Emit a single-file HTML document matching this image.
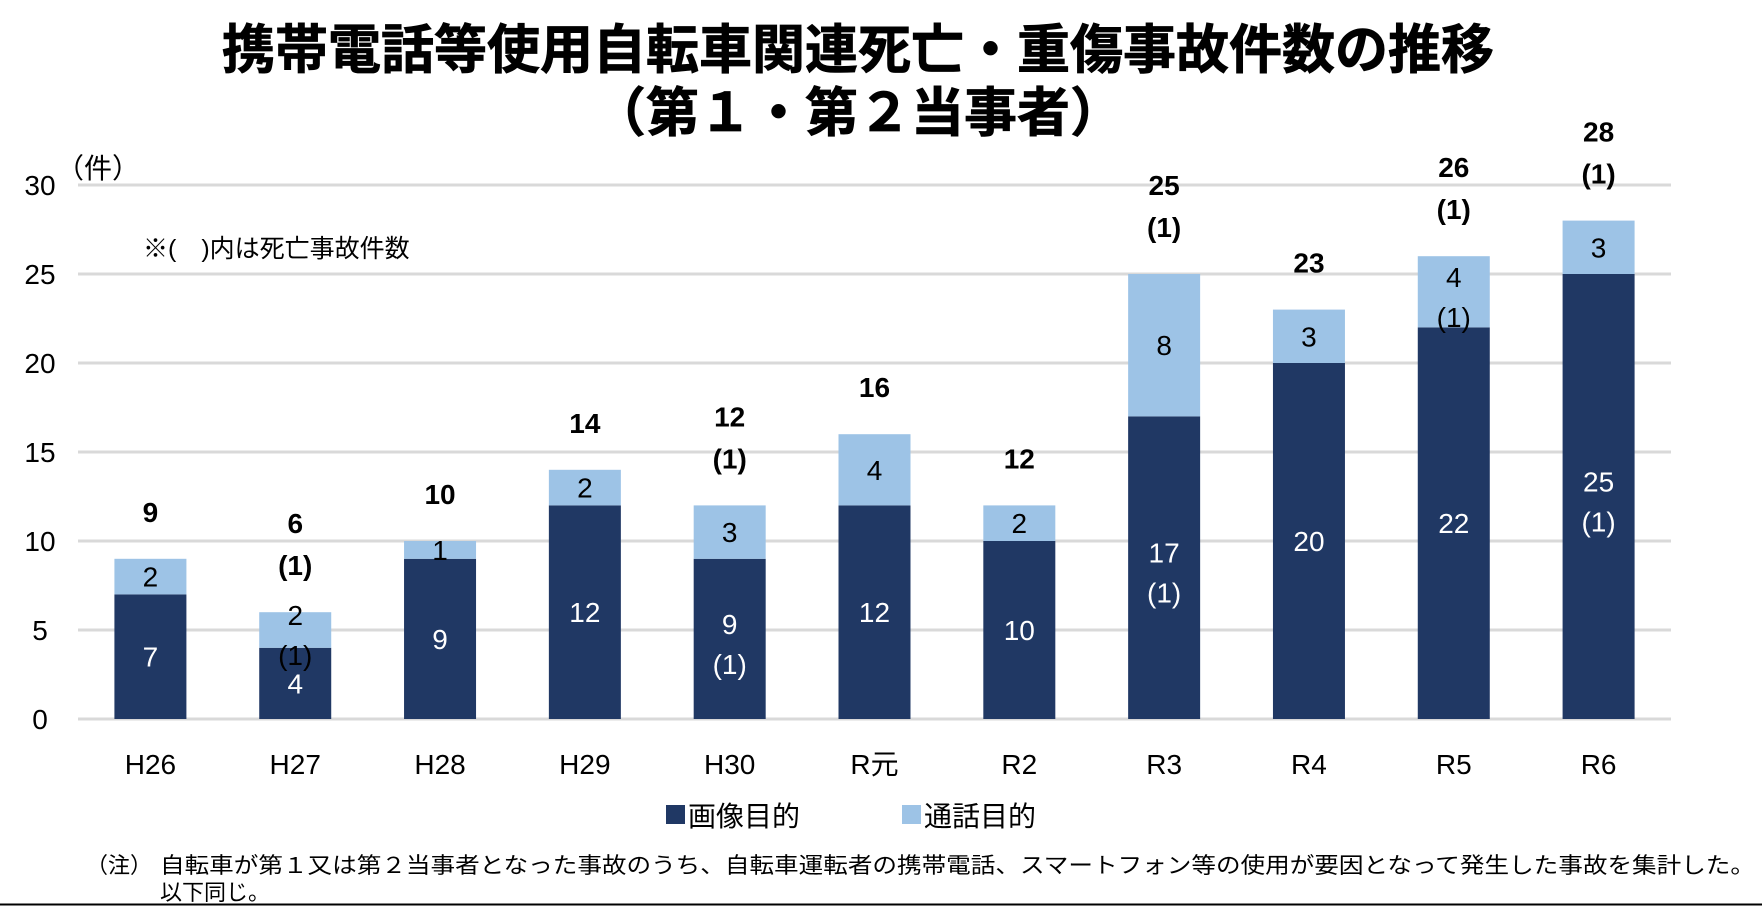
<!DOCTYPE html>
<html><head><meta charset="utf-8">
<style>
html,body{margin:0;padding:0;background:#fff;}
body{width:1762px;height:906px;overflow:hidden;font-family:"Liberation Sans","Noto Sans CJK JP",sans-serif;}
svg text{font-family:"Liberation Sans","Noto Sans CJK JP",sans-serif;}
</style></head>
<body>
<svg id="chart" width="1762" height="906" viewBox="0 0 1762 906" xmlns="http://www.w3.org/2000/svg">
<text x="858" y="68" text-anchor="middle" font-size="53" font-weight="bold" fill="#000" stroke="#000" stroke-width="0.8">携帯電話等使用自転車関連死亡・重傷事故件数の推移</text>
<text x="858" y="131" text-anchor="middle" font-size="53" font-weight="bold" fill="#000" stroke="#000" stroke-width="0.8">（第１・第２当事者）</text>
<text x="56" y="178" font-size="28" fill="#000">（件）</text>
<text x="143" y="257" font-size="25" fill="#000">※(　)内は死亡事故件数</text>
<g id="grid"></g>
<g id="bars"></g>
<g id="labels"></g>
<g>
<rect x="666" y="805" width="19" height="19" fill="#203864"/>
<text x="688" y="826" font-size="28" fill="#000">画像目的</text>
<rect x="902" y="805" width="19" height="19" fill="#9DC3E6"/>
<text x="924" y="826" font-size="28" fill="#000">通話目的</text>
</g>
<text x="86" y="873" font-size="22" fill="#000">（注）</text>
<text x="160" y="873" font-size="22" fill="#000" textLength="1595" lengthAdjust="spacingAndGlyphs">自転車が第１又は第２当事者となった事故のうち、自転車運転者の携帯電話、スマートフォン等の使用が要因となって発生した事故を集計した。</text>
<text x="160" y="900" font-size="22" fill="#000">以下同じ。</text>
<line x1="0" y1="904.5" x2="1762" y2="904.5" stroke="#000" stroke-width="2"/>
</svg>
<script>
const categories = ["H26","H27","H28","H29","H30","R元","R2","R3","R4","R5","R6"];
const imageValues = [7,4,9,12,9,12,10,17,20,22,25];
const callValues = [2,2,1,2,3,4,2,8,3,4,3];
const imageFatal = [0,0,0,0,1,0,0,1,0,0,1];
const callFatal = [0,1,0,0,0,0,0,0,0,1,0];
const yTicks = [0,5,10,15,20,25,30];

const NS="http://www.w3.org/2000/svg";
const X0=78, X1=1671, Y0=719, Y30=185, YMAX=30;
const band=(X1-X0)/categories.length, barW=72;
function yScale(v){return Y0-(Y0-Y30)*v/YMAX;}
function xCenter(i){return X0+band*(i+0.5);}
function mk(tag,attrs,parent){const e=document.createElementNS(NS,tag);for(const k in attrs)e.setAttribute(k,attrs[k]);parent.appendChild(e);return e;}
const grid=document.getElementById('grid'),bars=document.getElementById('bars'),labels=document.getElementById('labels');

yTicks.forEach(t=>{
  const y=yScale(t);
  const l=mk('line',{x1:X0,x2:X1,y1:y,y2:y,stroke:'#d9d9d9','stroke-width':3},grid);
  
  
  const tx=mk('text',{x:40,y:y+10,'text-anchor':'middle','font-size':28,fill:'#000'},grid);
  tx.textContent=t;
  
  
});

function segLabel(cx,y0,y1,val,fatal,name){
  const mid=(y0+y1)/2;
  if(fatal){
    const a=mk('text',{x:cx,y:mid-5,'text-anchor':'middle','font-size':28,fill:'#000'},labels);
    a.textContent=val;
    
    
    const b=mk('text',{x:cx,y:mid+35,'text-anchor':'middle','font-size':28,fill:'#000'},labels);
    b.textContent='('+fatal+')';
    
    
    return [a,b];
  } else {
    const a=mk('text',{x:cx,y:mid+10,'text-anchor':'middle','font-size':28,fill:'#000'},labels);
    a.textContent=val;
    
    
    return [a];
  }
}

categories.forEach((c,i)=>{
  const cx=xCenter(i);
  const yb=yScale(0), ym=yScale(imageValues[i]), yt=yScale(imageValues[i]+callValues[i]);
  const r1=mk('rect',{x:cx-barW/2,y:ym,width:barW,height:yb-ym,fill:'#203864'},bars);
  
  
  const r2=mk('rect',{x:cx-barW/2,y:yt,width:barW,height:ym-yt,fill:'#9DC3E6'},bars);
  
  
  segLabel(cx,ym,yb,imageValues[i],imageFatal[i],'label-image-'+c).forEach(e=>e.setAttribute('fill','#fff'));
  segLabel(cx,yt,ym,callValues[i],callFatal[i],'label-call-'+c);
  const tot=imageValues[i]+callValues[i], tf=imageFatal[i]+callFatal[i];
  let cy=yt-47;
  if(tf){
    const f=mk('text',{x:cx,y:cy+10,'text-anchor':'middle','font-size':28,'font-weight':'bold',fill:'#000'},labels);
    f.textContent='('+tf+')';
    
    
    cy-=42;
  }
  const t=mk('text',{x:cx,y:cy+10,'text-anchor':'middle','font-size':28,'font-weight':'bold',fill:'#000'},labels);
  t.textContent=tot;
  
  
  const cl=mk('text',{x:cx,y:774,'text-anchor':'middle','font-size':28,fill:'#000'},labels);
  cl.textContent=c;
  
  
});
</script>
</body></html>
